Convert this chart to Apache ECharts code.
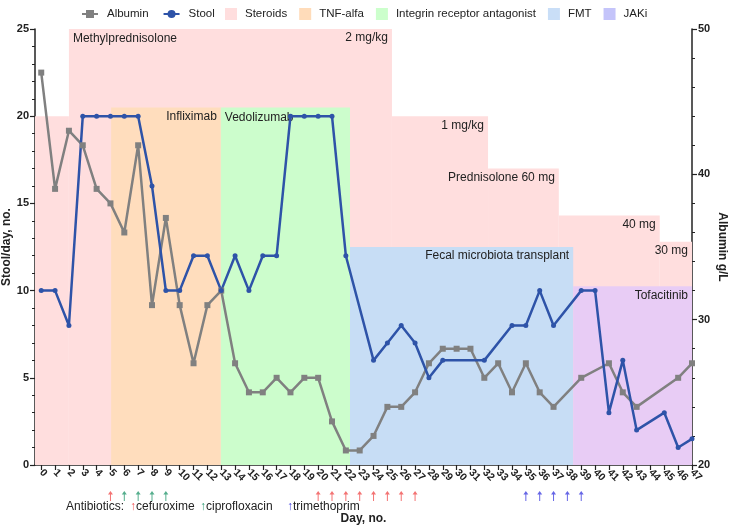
<!DOCTYPE html>
<html>
<head>
<meta charset="utf-8">
<script src="https://cdn.jsdelivr.net/npm/echarts@6/dist/echarts.min.js"></script>
<style>
  html, body { margin: 0; padding: 0; background: #fff; }
  #chart { width: 729px; height: 527px; }
</style>
</head>
<body>
<div id="chart"></div>
<script>
// x axis ticks (days); labels split in even / odd so the rotated labels never collide
const dayTicks = [0,1,2,3,4,5,6,7,8,9,10,11,12,13,14,15,16,17,18,19,20,21,22,23,
  24,25,26,27,28,29,30,31,32,33,34,35,36,37,38,39,40,41,42,43,44,45,46,47];
const evenDayLabels = [0,2,4,6,8,10,12,14,16,18,20,22,24,26,28,30,32,34,36,38,40,42,44,46];
const oddDayLabels = [1,3,5,7,9,11,13,15,17,19,21,23,25,27,29,31,33,35,37,39,41,43,45,47];

// stool per day (left axis)
const stoolDays = [0,1,2,3,4,5,6,7,8,9,10,11,12,13,14,15,16,17,18,19,20,21,22,
  24,25,26,27,28,29,32,34,35,36,37,39,40,41,42,43,45,46,47];
const stoolValues = [10,10,8,20,20,20,20,20,16,10,10,12,12,10,12,10,12,12,20,20,20,20,12,
  6,7,8,7,5,6,6,8,8,10,8,10,10,3,6,2,3,1,1.5];

// albumin g/L (right axis)
const albuminDays = [0,1,2,3,4,5,6,7,8,9,10,11,12,13,14,15,16,17,18,19,20,21,22,23,
  24,25,26,27,28,29,30,31,32,33,34,35,36,37,39,41,42,43,46,47];
const albuminValues = [47,39,43,42,39,38,36,42,31,37,31,27,31,32,27,25,25,26,25,26,26,23,21,21,
  22,24,24,25,27,28,28,28,26,27,25,27,25,24,26,27,25,24,26,27];

// treatment periods (day from / to, height on stool axis)
const steroidFrom = [-0.45, 2, 25.33, 32.27, 37.38, 44.67];
const steroidTo = [2, 25.33, 32.27, 37.38, 44.67, 47];
const steroidTop = [20, 25, 20, 17, 14.3, 12.8];
const steroidNoteLeft = ['', 'Methylprednisolone', '', '', '', ''];
const steroidNoteRight = ['', '2 mg/kg', '1 mg/kg', 'Prednisolone 60 mg', '40 mg', '30 mg'];

const tnfFrom = [5.05], tnfTo = [12.97], tnfTop = [20.5];
const tnfNoteLeft = [''], tnfNoteRight = ['Infliximab'];

const integrinFrom = [12.97], integrinTo = [22.3], integrinTop = [20.5];
const integrinNoteLeft = ['Vedolizumab'], integrinNoteRight = [''];

const fmtFrom = [22.3], fmtTo = [38.42], fmtTop = [12.5];
const fmtNoteLeft = [''], fmtNoteRight = ['Fecal microbiota transplant'];

const jakFrom = [38.42], jakTo = [47], jakTop = [10.25];
const jakNoteLeft = [''], jakNoteRight = ['Tofacitinib'];

// antibiotics given (days)
const cefuroximeDays = [5,20,21,22,23,24,25,26,27];
const ciprofloxacinDays = [6,7,8,9];
const trimethoprimDays = [35,36,37,38,39];

const FONT = '"Liberation Sans", Arial, sans-serif';
const arrowPath = 'path://M5,0 L10,7 L6,7 L6,20 L4,20 L4,7 L0,7 Z';

function bandSeries(name, legendColor, fill, from, to, top, noteLeft, noteRight) {
  return {
    name: name,
    type: 'custom',
    color: legendColor,
    xAxisIndex: 0,
    yAxisIndex: 0,
    silent: true,
    encode: { x: [0, 1], y: 2 },
    data: from.map((f, i) => [f, to[i], top[i]]),
    renderItem: function (params, api) {
      const i = params.dataIndex;
      const a = api.coord([api.value(0), api.value(2)]);
      const b = api.coord([api.value(1), 0]);
      const children = [{
        type: 'rect',
        shape: { x: a[0], y: a[1], width: b[0] - a[0], height: b[1] - a[1] },
        style: { fill: fill }
      }];
      if (noteLeft[i]) {
        children.push({
          type: 'text', x: a[0] + 4, y: a[1] + 10,
          style: { text: noteLeft[i], fill: '#222', font: '12px ' + FONT, align: 'left', verticalAlign: 'middle' }
        });
      }
      if (noteRight[i]) {
        children.push({
          type: 'text', x: b[0] - 4, y: a[1] + 9,
          style: { text: noteRight[i], fill: '#222', font: '12px ' + FONT, align: 'right', verticalAlign: 'middle' }
        });
      }
      return { type: 'group', children: children };
    }
  };
}

function arrowSeries(name, color, days) {
  return {
    name: name,
    type: 'scatter',
    xAxisIndex: 1,
    yAxisIndex: 2,
    silent: true,
    symbol: arrowPath,
    symbolSize: [5, 10],
    itemStyle: { color: color },
    data: days.map(d => [d, 0])
  };
}

const dayLabelStyle = {
  rotate: -45,
  margin: 6,
  fontSize: 10.5,
  fontWeight: 'bold',
  color: '#222',
  showMaxLabel: true,
  showMinLabel: true,
  hideOverlap: false
};

const chart = echarts.init(document.getElementById('chart'));

const option = {
  animation: false,
  textStyle: { fontFamily: FONT },
  legend: [
    {
      data: ['Albumin', 'Stool'],
      left: 76,
      top: 3,
      itemWidth: 16,
      itemHeight: 10,
      itemGap: 14,
      selectedMode: false,
      textStyle: { fontSize: 11.5, color: '#222', padding: [0, 0, 0, 4] }
    },
    {
      data: [
        { name: 'Steroids', icon: 'rect' },
        { name: 'TNF-alfa', icon: 'rect' },
        { name: 'Integrin receptor antagonist', icon: 'rect' },
        { name: 'FMT', icon: 'rect' },
        { name: 'JAKi', icon: 'rect' }
      ],
      left: 220,
      top: 3,
      itemWidth: 12,
      itemHeight: 12,
      itemGap: 12,
      selectedMode: false,
      textStyle: { fontSize: 11.5, color: '#222', padding: [0, 0, 0, 3] }
    }
  ],
  grid: [
    { left: 35, right: 37, top: 29, bottom: 62, containLabel: false, outerBoundsMode: 'none' },
    { left: 35, right: 37, top: 491, height: 10, containLabel: false, outerBoundsMode: 'none' }
  ],
  xAxis: [
    {
      type: 'value',
      gridIndex: 0,
      min: -0.45,
      max: 47,
      name: 'Day, no.',
      nameLocation: 'middle',
      nameGap: 48,
      nameMoveOverlap: false,
      nameTextStyle: { fontWeight: 'bold', fontSize: 12, color: '#222' },
      axisLine: { onZero: false, lineStyle: { color: '#222', width: 1.5 } },
      axisTick: { length: 5, lineStyle: { color: '#222', width: 1.2 }, customValues: dayTicks },
      axisLabel: Object.assign({ customValues: evenDayLabels }, dayLabelStyle),
      splitLine: { show: false }
    },
    {
      type: 'value',
      gridIndex: 1,
      min: -0.45,
      max: 47,
      show: false
    },
    {
      type: 'value',
      gridIndex: 0,
      position: 'bottom',
      min: -0.45,
      max: 47,
      axisLine: { show: false, onZero: false },
      axisTick: { show: false },
      axisLabel: Object.assign({ customValues: oddDayLabels }, dayLabelStyle),
      splitLine: { show: false }
    }
  ],
  yAxis: [
    {
      type: 'value',
      gridIndex: 0,
      min: 0,
      max: 25,
      interval: 5,
      name: 'Stool/day, no.',
      nameLocation: 'middle',
      nameGap: 22,
      nameMoveOverlap: false,
      nameTextStyle: { fontWeight: 'bold', fontSize: 12, color: '#222' },
      axisLine: { show: true, onZero: false, lineStyle: { color: '#222', width: 1.5 } },
      axisTick: { show: true, length: 5, lineStyle: { color: '#222', width: 1.2 } },
      minorTick: { show: true, splitNumber: 5, length: 3, lineStyle: { color: '#222', width: 1 } },
      axisLabel: { fontSize: 11, fontWeight: 'bold', color: '#222', margin: 6 },
      splitLine: { show: false }
    },
    {
      type: 'value',
      gridIndex: 0,
      position: 'right',
      min: 20,
      max: 50,
      interval: 10,
      name: 'Albumin g/L',
      nameLocation: 'middle',
      nameGap: 24,
      nameRotate: -90,
      nameMoveOverlap: false,
      nameTextStyle: { fontWeight: 'bold', fontSize: 12, color: '#222' },
      axisLine: { show: true, onZero: false, lineStyle: { color: '#222', width: 1.5 } },
      axisTick: { show: true, length: 5, lineStyle: { color: '#222', width: 1.2 } },
      minorTick: { show: true, splitNumber: 5, length: 3, lineStyle: { color: '#222', width: 1 } },
      axisLabel: { fontSize: 11, fontWeight: 'bold', color: '#222', margin: 6 },
      splitLine: { show: false }
    },
    {
      type: 'value',
      gridIndex: 1,
      min: -1,
      max: 1,
      show: false
    }
  ],
  series: [
    bandSeries('Steroids', '#FFDEDE', '#FFDEDE', steroidFrom, steroidTo, steroidTop, steroidNoteLeft, steroidNoteRight),
    bandSeries('TNF-alfa', '#FFDCBA', '#FFDDBD', tnfFrom, tnfTo, tnfTop, tnfNoteLeft, tnfNoteRight),
    bandSeries('Integrin receptor antagonist', '#CCFFCC', '#CCFDCC', integrinFrom, integrinTo, integrinTop, integrinNoteLeft, integrinNoteRight),
    bandSeries('FMT', '#C9DEF7', '#C7DDF5', fmtFrom, fmtTo, fmtTop, fmtNoteLeft, fmtNoteRight),
    bandSeries('JAKi', '#C4C4FA', '#E8CCF5', jakFrom, jakTo, jakTop, jakNoteLeft, jakNoteRight),
    {
      name: 'Albumin',
      type: 'line',
      yAxisIndex: 1,
      data: albuminDays.map((d, i) => [d, albuminValues[i]]),
      symbol: 'rect',
      symbolSize: 6,
      lineStyle: { color: '#808080', width: 2.5 },
      itemStyle: { color: '#808080' },
      emphasis: { disabled: true }
    },
    {
      name: 'Stool',
      type: 'line',
      yAxisIndex: 0,
      data: stoolDays.map((d, i) => [d, stoolValues[i]]),
      symbol: 'circle',
      symbolSize: 5,
      lineStyle: { color: '#2E53A8', width: 2.5 },
      itemStyle: { color: '#2E53A8' },
      emphasis: { disabled: true }
    },
    arrowSeries('cefuroxime', '#F05050', cefuroximeDays),
    arrowSeries('ciprofloxacin', '#2A9A70', ciprofloxacinDays),
    arrowSeries('trimethoprim', '#4040E0', trimethoprimDays)
  ],
  graphic: [
    {
      type: 'text', left: 66, top: 501,
      style: { text: 'Antibiotics:', font: '12px ' + FONT, fill: '#222' }
    },
    {
      type: 'text', left: 130, top: 501,
      style: {
        text: '{r|↑}cefuroxime',
        font: '12px ' + FONT, fill: '#222',
        rich: { r: { fill: '#F05050', font: '12px ' + FONT } }
      }
    },
    {
      type: 'text', left: 200, top: 501,
      style: {
        text: '{g|↑}ciprofloxacin',
        font: '12px ' + FONT, fill: '#222',
        rich: { g: { fill: '#2A9A70', font: '12px ' + FONT } }
      }
    },
    {
      type: 'text', left: 287, top: 501,
      style: {
        text: '{b|↑}trimethoprim',
        font: '12px ' + FONT, fill: '#222',
        rich: { b: { fill: '#4040E0', font: '12px ' + FONT } }
      }
    }
  ]
};

chart.setOption(option);
</script>
</body>
</html>
